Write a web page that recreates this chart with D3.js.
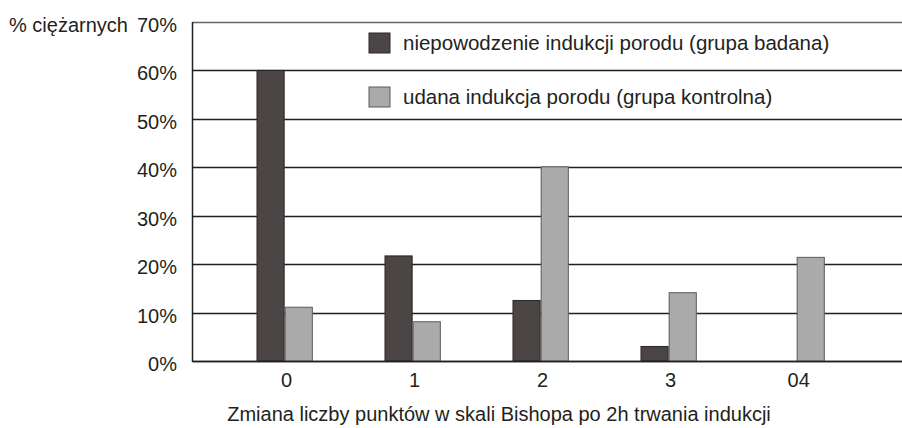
<!DOCTYPE html>
<html>
<head>
<meta charset="utf-8">
<script src="https://cdn.jsdelivr.net/npm/d3@7"></script>
<style>
  body { margin: 0; background: #fff; }
  text { font-family: "Liberation Sans", Arial, sans-serif; fill: #231f20; }
</style>
</head>
<body>
<div id="chart"></div>
<script>
// data
const categories = ["0", "1", "2", "3", "04"];
const seriesNames = ["niepowodzenie indukcji porodu (grupa badana)", "udana indukcja porodu (grupa kontrolna)"];
const failed = [0.60, 0.217, 0.125, 0.03, 0];
const success = [0.111, 0.081, 0.401, 0.141, 0.214];
const yTicks = [0, 0.1, 0.2, 0.3, 0.4, 0.5, 0.6, 0.7];

const FILLS = ["#4b4645", "#aaaaaa"];
const EDGES = ["#2b2727", "#5a5a5a"];

const W = 902, H = 428;
const plotLeft = 192.5, plotRight = 902, plotTop = 22, plotBottom = 361;
const FONT = "20px";

const svg = d3.select("#chart").append("svg")
    .attr("width", W)
    .attr("height", H);

const y = d3.scaleLinear().domain([0, 0.7]).range([plotBottom, plotTop]);

const x = d3.scaleBand().domain(categories)
    .range([plotLeft, 888.8])
    .paddingInner(0.56)
    .paddingOuter(0.5);

const xs = d3.scaleBand().domain([0, 1]).range([0, x.bandwidth()]);

// gridlines
svg.append("g")
    .selectAll("line")
    .data(yTicks)
    .join("line")
    .attr("x1", plotLeft)
    .attr("x2", plotRight)
    .attr("y1", d => Math.round(y(d)) + 0.5)
    .attr("y2", d => Math.round(y(d)) + 0.5)
    .attr("stroke", (d, i) => i === yTicks.length - 1 ? "#666" : "#231f20")
    .attr("stroke-width", 1.5);

// left axis line
svg.append("line")
    .attr("x1", plotLeft).attr("x2", plotLeft)
    .attr("y1", plotTop).attr("y2", plotBottom + 1)
    .attr("stroke", "#231f20")
    .attr("stroke-width", 1.5);

// y tick labels
svg.append("g")
    .selectAll("text")
    .data(yTicks)
    .join("text")
    .attr("x", 177)
    .attr("y", d => y(d) + 10)
    .attr("text-anchor", "end")
    .attr("font-size", FONT)
    .text(d3.format(".0%"));

svg.append("text")
    .attr("x", 9)
    .attr("y", 32)
    .attr("font-size", FONT)
    .text("% ciężarnych");

// bars
const rows = categories.map((c, i) => ({ cat: c, values: [failed[i], success[i]] }));

const groups = svg.append("g")
    .selectAll("g")
    .data(rows)
    .join("g")
    .attr("transform", d => "translate(" + x(d.cat) + ",0)");

groups.selectAll("rect")
    .data(d => d.values.map((v, k) => ({ k: k, v: v })).filter(d => d.v > 0))
    .join("rect")
    .attr("x", d => xs(d.k) + 0.5)
    .attr("y", d => y(d.v))
    .attr("width", xs.bandwidth() - 1)
    .attr("height", d => plotBottom - y(d.v))
    .attr("fill", d => FILLS[d.k])
    .attr("stroke", d => EDGES[d.k])
    .attr("stroke-width", 1);

// bottom axis line drawn over bar bases
svg.append("line")
    .attr("x1", plotLeft).attr("x2", plotRight)
    .attr("y1", plotBottom + 0.5).attr("y2", plotBottom + 0.5)
    .attr("stroke", "#231f20")
    .attr("stroke-width", 1.5);

// x tick labels
svg.append("g")
    .selectAll("text")
    .data(categories)
    .join("text")
    .attr("x", d => x(d) + x.bandwidth() / 2 + 2)
    .attr("y", 387)
    .attr("text-anchor", "middle")
    .attr("font-size", FONT)
    .text(d => d);

// x axis title
svg.append("text")
    .attr("x", 499)
    .attr("y", 421)
    .attr("text-anchor", "middle")
    .attr("font-size", FONT)
    .text("Zmiana liczby punktów w skali Bishopa po 2h trwania indukcji");

// legend
const legend = svg.append("g")
    .selectAll("g")
    .data(seriesNames)
    .join("g")
    .attr("transform", (d, i) => "translate(369," + (33 + i * 54) + ")");

legend.append("rect")
    .attr("width", 21)
    .attr("height", 20)
    .attr("fill", (d, i) => FILLS[i])
    .attr("stroke", (d, i) => EDGES[i])
    .attr("stroke-width", 1);

legend.append("text")
    .attr("x", 34)
    .attr("y", 17)
    .attr("font-size", "20.5px")
    .text(d => d);
</script>
</body>
</html>
